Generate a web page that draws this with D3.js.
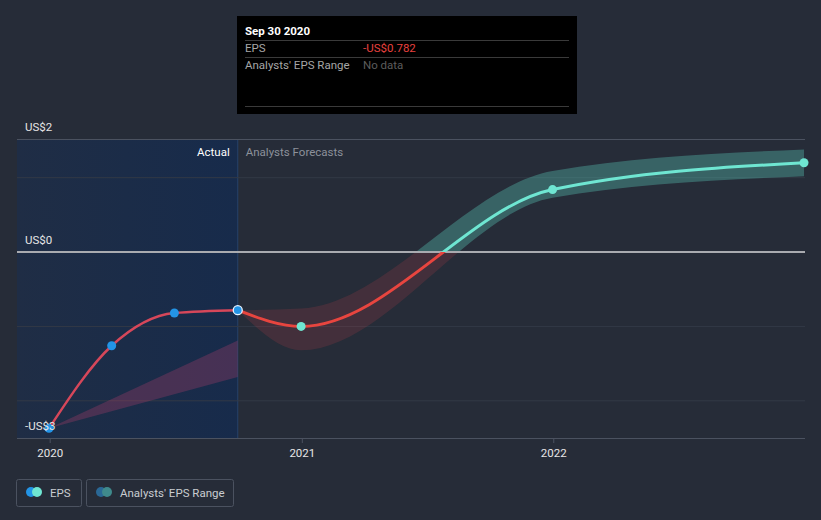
<!DOCTYPE html>
<html><head><meta charset="utf-8">
<script src="https://cdn.jsdelivr.net/npm/d3@7/dist/d3.min.js"></script>
<style>
html,body{margin:0;padding:0;background:#262c38;}
svg{display:block;font-family:Roboto,"Noto Sans",sans-serif;}
</style></head>
<body>
<svg id="c" width="821" height="520"></svg>
<script>
// ---- data ----
const actualDates = ["2019-12-31","2020-03-31","2020-06-30","2020-09-30"];
const actualEPS = [-2.37, -1.26, -0.82, -0.782];
const pastRangeDates = ["2019-12-31","2020-09-30"];
const pastRangeLow = [-2.37, -1.68];
const pastRangeHigh = [-2.37, -1.19];
const forecastDates = ["2020-09-30","2020-12-31","2021-12-31","2022-12-31"];
const forecastEPS = [-0.782, -1.0, 0.84, 1.2];
const forecastLow = [-0.782, -1.32, 0.73, 1.02];
const forecastHigh = [-0.782, -0.76, 1.09, 1.38];
const yTickLabels = ["US$2","US$0","-US$3"];
const xTickLabels = ["2020","2021","2022"];
const gridValues = [1, 0, -1, -2];

const parse = d3.timeParse("%Y-%m-%d");
const svg = d3.select("#c");
const W = 821, H = 520;
const pL = 17, pR = 805, pT = 139, pB = 438;

const x = d3.scaleTime().domain([parse("2019-12-31"), parse("2022-12-31")]).range([49, 804]);
const y = d3.scaleLinear().domain([-2.5, 1.52]).range([pB, pT]);
const dividerX = x(parse("2020-09-30"));

const defs = svg.append("defs");
const grad = defs.append("linearGradient").attr("id","actGrad").attr("x1","0").attr("x2","1");
grad.append("stop").attr("offset","0").attr("stop-color","#1f2d45");
grad.append("stop").attr("offset","1").attr("stop-color","#172b4b");
defs.append("clipPath").attr("id","neg").append("rect")
  .attr("x",0).attr("y",y(0)).attr("width",W).attr("height",H);
defs.append("clipPath").attr("id","pos").append("rect")
  .attr("x",0).attr("y",0).attr("width",W).attr("height",y(0));

// actual region
svg.append("rect").attr("x",pL).attr("y",pT).attr("width",dividerX-pL).attr("height",pB-pT)
  .attr("fill","url(#actGrad)");
svg.append("line").attr("x1",dividerX).attr("x2",dividerX).attr("y1",pT).attr("y2",pB)
  .attr("stroke","#26426a").attr("stroke-width",1);

// grid
svg.append("line").attr("x1",pL).attr("x2",pR).attr("y1",pT+0.5).attr("y2",pT+0.5)
  .attr("stroke","#4b5260").attr("stroke-width",1);
svg.selectAll(".grid").data(gridValues.filter(v=>v!==0)).enter().append("line")
  .attr("x1",pL).attr("x2",pR).attr("y1",d=>y(d)).attr("y2",d=>y(d))
  .attr("stroke","#323946").attr("stroke-width",1);

// past range band
const pastBand = pastRangeDates.map((d,i)=>({d:parse(d),lo:pastRangeLow[i],hi:pastRangeHigh[i]}));
svg.append("path").datum(pastBand)
  .attr("d", d3.area().x(d=>x(d.d)).y0(d=>y(d.lo)).y1(d=>y(d.hi)))
  .attr("fill","#c2416e").attr("fill-opacity",0.28);

// forecast band
const fBand = forecastDates.map((d,i)=>({d:parse(d),lo:forecastLow[i],hi:forecastHigh[i]}));
const bandArea = d3.area().curve(d3.curveMonotoneX).x(d=>x(d.d)).y0(d=>y(d.lo)).y1(d=>y(d.hi));
svg.append("path").datum(fBand).attr("d",bandArea).attr("clip-path","url(#neg)")
  .attr("fill","#e0464a").attr("fill-opacity",0.16);
svg.append("path").datum(fBand).attr("d",bandArea).attr("clip-path","url(#pos)")
  .attr("fill","#5fd3c3").attr("fill-opacity",0.33);

// zero line
svg.append("line").attr("x1",pL).attr("x2",pR).attr("y1",y(0)).attr("y2",y(0))
  .attr("stroke","#a9abb0").attr("stroke-width",2);

// bottom axis
const xAxis = d3.axisBottom(x)
  .tickValues(xTickLabels.map(t=>parse(t+"-01-01")))
  .tickFormat((d,i)=>xTickLabels[i]).tickSize(5).tickPadding(6);
const gx = svg.append("g").attr("transform",`translate(0,${pB})`).call(xAxis);
gx.select(".domain").attr("d",`M${pL},0.5H${pR}`).attr("stroke","#4b5260");
gx.selectAll(".tick line").attr("stroke","#4b5260");
gx.selectAll(".tick text").attr("fill","#e6e6e6").attr("font-size",11.5).attr("font-family","Roboto,sans-serif");

// lines
const act = actualDates.map((d,i)=>({d:parse(d),v:actualEPS[i]}));
const fc = forecastDates.map((d,i)=>({d:parse(d),v:forecastEPS[i]}));
const line = d3.line().curve(d3.curveMonotoneX).x(d=>x(d.d)).y(d=>y(d.v));
svg.append("path").datum(act).attr("d",line).attr("fill","none")
  .attr("stroke","#d6475a").attr("stroke-width",2.5);
svg.append("path").datum(fc).attr("d",line).attr("fill","none").attr("clip-path","url(#neg)")
  .attr("stroke","#e8453f").attr("stroke-width",3);
svg.append("path").datum(fc).attr("d",line).attr("fill","none").attr("clip-path","url(#pos)")
  .attr("stroke","#6fe6d2").attr("stroke-width",3);

// points
svg.selectAll(".ap").data(act.slice(0,3)).enter().append("circle")
  .attr("cx",d=>x(d.d)).attr("cy",d=>y(d.v)).attr("r",4.5).attr("fill","#2394e6");
svg.append("circle").attr("cx",x(act[3].d)).attr("cy",y(act[3].v)).attr("r",4.5)
  .attr("fill","#2394e6").attr("stroke","#e8f2ff").attr("stroke-width",1.3);
svg.selectAll(".fp").data(fc.slice(1)).enter().append("circle")
  .attr("cx",d=>x(d.d)).attr("cy",d=>y(d.v)).attr("r",4.5).attr("fill","#6fe6d2");

// y labels
const yLabelVals = [1.52, 0, -2.5];
svg.selectAll(".yl").data(yTickLabels).enter().append("text")
  .attr("x",25).attr("y",(d,i)=>y(yLabelVals[i])-8).text(d=>d)
  .attr("fill","#e6e6e6").attr("font-size",11.5);

// region labels
svg.append("text").attr("x",dividerX-8).attr("y",156).attr("text-anchor","end")
  .attr("fill","#ffffff").attr("font-size",11.5).text("Actual");
svg.append("text").attr("x",dividerX+8).attr("y",156)
  .attr("fill","#8c919b").attr("font-size",11.5).text("Analysts Forecasts");

// tooltip
const tt = svg.append("g");
tt.append("rect").attr("x",237).attr("y",16).attr("width",340).attr("height",98).attr("fill","#000");
tt.append("text").attr("x",245).attr("y",35).attr("fill","#fff").attr("font-size",11.5)
  .attr("font-weight","bold").text("Sep 30 2020");
[40,57,106].forEach(yy=>tt.append("line").attr("x1",245).attr("x2",569).attr("y1",yy+0.5).attr("y2",yy+0.5)
  .attr("stroke","#3a3a3a"));
tt.append("text").attr("x",245).attr("y",52).attr("fill","#a6a6a6").attr("font-size",11.5).text("EPS");
tt.append("text").attr("x",363).attr("y",52).attr("fill","#e8413f").attr("font-size",11.5).text("-US$0.782");
tt.append("text").attr("x",245).attr("y",69).attr("fill","#a6a6a6").attr("font-size",11.5).text("Analysts' EPS Range");
tt.append("text").attr("x",363).attr("y",69).attr("fill","#5c5c5c").attr("font-size",11.5).text("No data");

// legend
const lg = svg.append("g");
lg.append("rect").attr("x",16.5).attr("y",479.5).attr("width",65).attr("height",27).attr("rx",2)
  .attr("fill","none").attr("stroke","#4b5260");
lg.append("circle").attr("cx",31).attr("cy",492).attr("r",5).attr("fill","#2394e6");
lg.append("circle").attr("cx",37).attr("cy",492).attr("r",5).attr("fill","#6fe6d2");
lg.append("text").attr("x",50).attr("y",496.5).attr("fill","#c9ccd1").attr("font-size",11.5).text("EPS");
lg.append("rect").attr("x",86.5).attr("y",479.5).attr("width",147).attr("height",27).attr("rx",2)
  .attr("fill","none").attr("stroke","#4b5260");
lg.append("circle").attr("cx",101).attr("cy",492).attr("r",5).attr("fill","#2a6896");
lg.append("circle").attr("cx",107).attr("cy",492).attr("r",5).attr("fill","#3f8a8c");
lg.append("text").attr("x",120).attr("y",496.5).attr("fill","#c9ccd1").attr("font-size",11.5).text("Analysts' EPS Range");
</script>
</body></html>
